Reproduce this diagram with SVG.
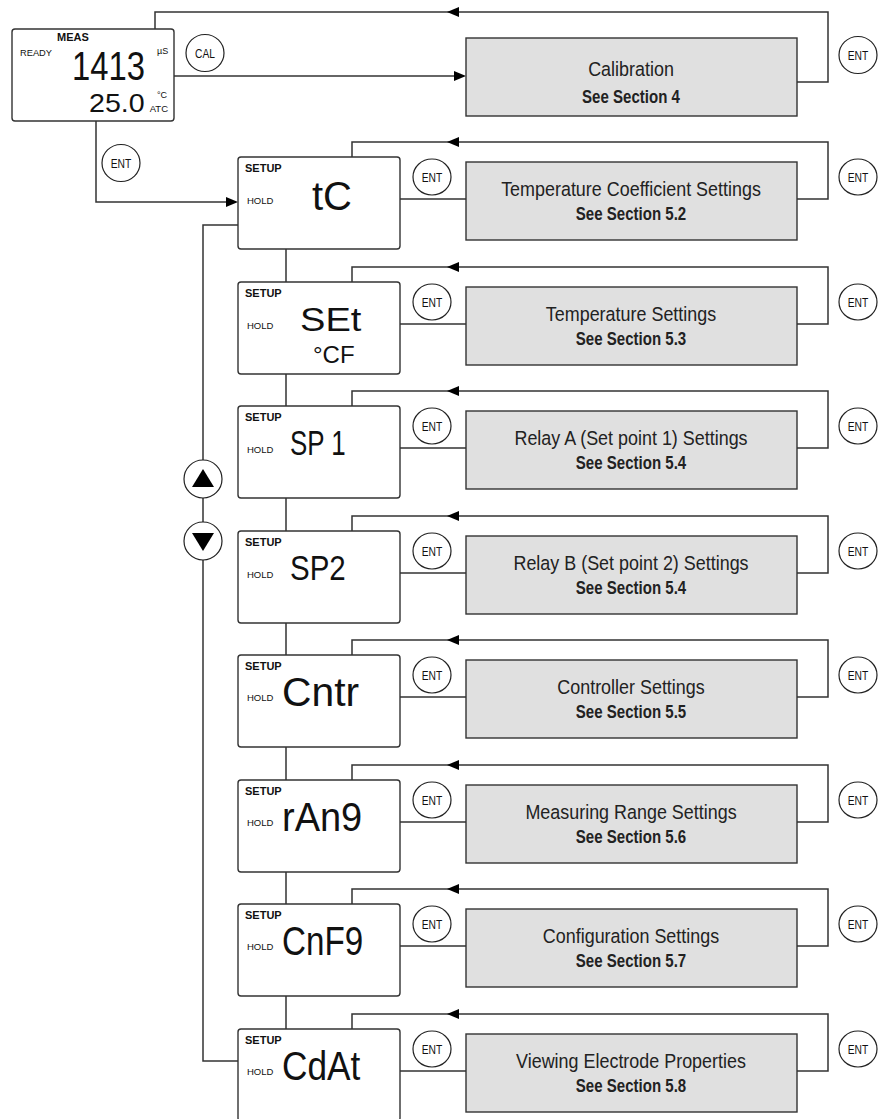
<svg xmlns="http://www.w3.org/2000/svg" width="878" height="1119" viewBox="0 0 878 1119">
<defs>
<style>
.disp{fill:#fff;stroke:#333;stroke-width:1.4}
.gbox{fill:#e0e0e0;stroke:#333;stroke-width:1.4}
.ln{fill:none;stroke:#333;stroke-width:1.5}
.btn{fill:#fff;stroke:#222;stroke-width:1.2}
.bt{font-family:"Liberation Sans",Arial,sans-serif;font-size:12.5px;fill:#111;text-anchor:middle}
.setup{font-family:"Liberation Sans",Arial,sans-serif;font-size:11px;font-weight:bold;fill:#111}
.hold{font-family:"Liberation Sans",Arial,sans-serif;font-size:9.5px;fill:#111}
.seg{font-family:"Liberation Sans",Arial,sans-serif;fill:#111}
.t1{font-family:"Liberation Sans",Arial,sans-serif;font-size:19.5px;fill:#222;text-anchor:middle}
.t2{font-family:"Liberation Sans",Arial,sans-serif;font-size:17.5px;font-weight:bold;fill:#222;text-anchor:middle}
.sm{font-family:"Liberation Sans",Arial,sans-serif;fill:#111}
</style>
</defs>

<g id="connectors">
<path class="ln" d="M155,29 V12 H828 V82 H797"/>
<path d="M459,7 L447,12 L459,17 z" fill="#000"/>
<path class="ln" d="M174,76 H454"/>
<path d="M454,71 L466,76 L454,81 z" fill="#000"/>
<path class="ln" d="M96,121 V202 H226"/>
<path d="M226,197 L238,202 L226,207 z" fill="#000"/>
<path class="ln" d="M238,225 H203 V1061 H238"/>
<path class="ln" d="M286,249 V282 M286,374 V406 M286,498 V531 M286,623 V655 M286,747 V780 M286,872 V904 M286,996 V1029"/>
<path class="ln" d="M400,199 H466 M797,199 H828 V142 H352 V157"/>
<path d="M459,137 L447,142 L459,147 z" fill="#000"/>
<path class="ln" d="M400,324 H466 M797,324 H828 V267 H352 V282"/>
<path d="M459,262 L447,267 L459,272 z" fill="#000"/>
<path class="ln" d="M400,448 H466 M797,448 H828 V391 H352 V406"/>
<path d="M459,386 L447,391 L459,396 z" fill="#000"/>
<path class="ln" d="M400,573 H466 M797,573 H828 V516 H352 V531"/>
<path d="M459,511 L447,516 L459,521 z" fill="#000"/>
<path class="ln" d="M400,697 H466 M797,697 H828 V640 H352 V655"/>
<path d="M459,635 L447,640 L459,645 z" fill="#000"/>
<path class="ln" d="M400,822 H466 M797,822 H828 V765 H352 V780"/>
<path d="M459,760 L447,765 L459,770 z" fill="#000"/>
<path class="ln" d="M400,946 H466 M797,946 H828 V889 H352 V904"/>
<path d="M459,884 L447,889 L459,894 z" fill="#000"/>
<path class="ln" d="M400,1071 H466 M797,1071 H828 V1014 H352 V1029"/>
<path d="M459,1009 L447,1014 L459,1019 z" fill="#000"/>
</g>

<g id="buttons">
<ellipse class="btn" cx="205" cy="53" rx="19" ry="18.5"/><text class="bt" transform="translate(205,57.5) scale(0.82,1)">CAL</text>
<ellipse class="btn" cx="858" cy="55" rx="19" ry="18.5"/><text class="bt" transform="translate(858,59.5) scale(0.82,1)">ENT</text>
<ellipse class="btn" cx="121" cy="163" rx="19" ry="18.5"/><text class="bt" transform="translate(121,167.5) scale(0.82,1)">ENT</text>
<circle class="btn" cx="203" cy="479" r="19"/><path d="M192,487 L203,469 L214,487 z" fill="#000"/>
<circle class="btn" cx="203" cy="541" r="19"/><path d="M192,533 L203,551 L214,533 z" fill="#000"/>
<ellipse class="btn" cx="432" cy="177" rx="19" ry="18"/><text class="bt" transform="translate(432,181.5) scale(0.82,1)">ENT</text>
<ellipse class="btn" cx="858" cy="177" rx="19" ry="18"/><text class="bt" transform="translate(858,181.5) scale(0.82,1)">ENT</text>
<ellipse class="btn" cx="432" cy="302" rx="19" ry="18"/><text class="bt" transform="translate(432,306.5) scale(0.82,1)">ENT</text>
<ellipse class="btn" cx="858" cy="302" rx="19" ry="18"/><text class="bt" transform="translate(858,306.5) scale(0.82,1)">ENT</text>
<ellipse class="btn" cx="432" cy="426" rx="19" ry="18"/><text class="bt" transform="translate(432,430.5) scale(0.82,1)">ENT</text>
<ellipse class="btn" cx="858" cy="426" rx="19" ry="18"/><text class="bt" transform="translate(858,430.5) scale(0.82,1)">ENT</text>
<ellipse class="btn" cx="432" cy="551" rx="19" ry="18"/><text class="bt" transform="translate(432,555.5) scale(0.82,1)">ENT</text>
<ellipse class="btn" cx="858" cy="551" rx="19" ry="18"/><text class="bt" transform="translate(858,555.5) scale(0.82,1)">ENT</text>
<ellipse class="btn" cx="432" cy="675" rx="19" ry="18"/><text class="bt" transform="translate(432,679.5) scale(0.82,1)">ENT</text>
<ellipse class="btn" cx="858" cy="675" rx="19" ry="18"/><text class="bt" transform="translate(858,679.5) scale(0.82,1)">ENT</text>
<ellipse class="btn" cx="432" cy="800" rx="19" ry="18"/><text class="bt" transform="translate(432,804.5) scale(0.82,1)">ENT</text>
<ellipse class="btn" cx="858" cy="800" rx="19" ry="18"/><text class="bt" transform="translate(858,804.5) scale(0.82,1)">ENT</text>
<ellipse class="btn" cx="432" cy="924" rx="19" ry="18"/><text class="bt" transform="translate(432,928.5) scale(0.82,1)">ENT</text>
<ellipse class="btn" cx="858" cy="924" rx="19" ry="18"/><text class="bt" transform="translate(858,928.5) scale(0.82,1)">ENT</text>
<ellipse class="btn" cx="432" cy="1049" rx="19" ry="18"/><text class="bt" transform="translate(432,1053.5) scale(0.82,1)">ENT</text>
<ellipse class="btn" cx="858" cy="1049" rx="19" ry="18"/><text class="bt" transform="translate(858,1053.5) scale(0.82,1)">ENT</text>
</g>

<g id="meas">
<rect class="disp" x="12" y="29" width="162" height="92" rx="3"/>
<text class="setup" x="57" y="41">MEAS</text>
<text class="sm" x="20" y="56" font-size="9.3">READY</text>
<text class="seg" font-size="40" transform="translate(72,80) scale(0.82,1)">1413</text>
<text class="sm" x="157" y="54" font-size="9">µS</text>
<text class="seg" font-size="26" transform="translate(89,112) scale(1.1,1)">25.0</text>
<text class="sm" x="157" y="98" font-size="9">°C</text>
<text class="sm" x="168" y="112" font-size="9.5" text-anchor="end">ATC</text>
</g>

<g id="calibration">
<rect class="gbox" x="466" y="38" width="331" height="78"/>
<text class="t1" transform="translate(631,76) scale(0.92,1)">Calibration</text>
<text class="t2" transform="translate(631,103) scale(0.86,1)">See Section 4</text>
</g>

<g id="setup-tc">
<rect class="disp" x="238" y="157" width="162" height="92" rx="3"/>
<text class="setup" x="245" y="172">SETUP</text>
<text class="hold" x="247" y="204">HOLD</text>
<text class="seg" font-size="40" transform="translate(312,210)">tC</text>
</g>
<g id="gbox-tc">
<rect class="gbox" x="466" y="162" width="331" height="78"/>
<text class="t1" transform="translate(631,196) scale(0.92,1)">Temperature Coefficient Settings</text>
<text class="t2" transform="translate(631,220) scale(0.86,1)">See Section 5.2</text>
</g>

<g id="setup-set">
<rect class="disp" x="238" y="282" width="162" height="92" rx="3"/>
<text class="setup" x="245" y="297">SETUP</text>
<text class="hold" x="247" y="329">HOLD</text>
<text class="seg" font-size="34" transform="translate(300,331) scale(1.12,1)">SEt</text>
<text class="seg" font-size="24" transform="translate(313,363)">°CF</text>
</g>
<g id="gbox-set">
<rect class="gbox" x="466" y="287" width="331" height="78"/>
<text class="t1" transform="translate(631,321) scale(0.92,1)">Temperature Settings</text>
<text class="t2" transform="translate(631,345) scale(0.86,1)">See Section 5.3</text>
</g>

<g id="setup-sp1">
<rect class="disp" x="238" y="406" width="162" height="92" rx="3"/>
<text class="setup" x="245" y="421">SETUP</text>
<text class="hold" x="247" y="453">HOLD</text>
<text class="seg" font-size="36" transform="translate(290,455) scale(0.72,1)">SP 1</text>
</g>
<g id="gbox-sp1">
<rect class="gbox" x="466" y="411" width="331" height="78"/>
<text class="t1" transform="translate(631,445) scale(0.92,1)">Relay A (Set point 1) Settings</text>
<text class="t2" transform="translate(631,469) scale(0.86,1)">See Section 5.4</text>
</g>

<g id="setup-sp2">
<rect class="disp" x="238" y="531" width="162" height="92" rx="3"/>
<text class="setup" x="245" y="546">SETUP</text>
<text class="hold" x="247" y="578">HOLD</text>
<text class="seg" font-size="36" transform="translate(290,580) scale(0.82,1)">SP2</text>
</g>
<g id="gbox-sp2">
<rect class="gbox" x="466" y="536" width="331" height="78"/>
<text class="t1" transform="translate(631,570) scale(0.92,1)">Relay B (Set point 2) Settings</text>
<text class="t2" transform="translate(631,594) scale(0.86,1)">See Section 5.4</text>
</g>

<g id="setup-cntr">
<rect class="disp" x="238" y="655" width="162" height="92" rx="3"/>
<text class="setup" x="245" y="670">SETUP</text>
<text class="hold" x="247" y="701">HOLD</text>
<text class="seg" font-size="40" transform="translate(282,706) scale(1.02,1)">Cntr</text>
</g>
<g id="gbox-cntr">
<rect class="gbox" x="466" y="660" width="331" height="78"/>
<text class="t1" transform="translate(631,694) scale(0.92,1)">Controller Settings</text>
<text class="t2" transform="translate(631,718) scale(0.86,1)">See Section 5.5</text>
</g>

<g id="setup-rang">
<rect class="disp" x="238" y="780" width="162" height="92" rx="3"/>
<text class="setup" x="245" y="795">SETUP</text>
<text class="hold" x="247" y="826">HOLD</text>
<text class="seg" font-size="40" transform="translate(282,831) scale(0.95,1)">rAn9</text>
</g>
<g id="gbox-rang">
<rect class="gbox" x="466" y="785" width="331" height="78"/>
<text class="t1" transform="translate(631,819) scale(0.92,1)">Measuring Range Settings</text>
<text class="t2" transform="translate(631,843) scale(0.86,1)">See Section 5.6</text>
</g>

<g id="setup-cnfg">
<rect class="disp" x="238" y="904" width="162" height="92" rx="3"/>
<text class="setup" x="245" y="919">SETUP</text>
<text class="hold" x="247" y="950">HOLD</text>
<text class="seg" font-size="40" transform="translate(282,955) scale(0.83,1)">CnF9</text>
</g>
<g id="gbox-cnfg">
<rect class="gbox" x="466" y="909" width="331" height="78"/>
<text class="t1" transform="translate(631,943) scale(0.92,1)">Configuration Settings</text>
<text class="t2" transform="translate(631,967) scale(0.86,1)">See Section 5.7</text>
</g>

<g id="setup-cdat">
<rect class="disp" x="238" y="1029" width="162" height="92" rx="3"/>
<text class="setup" x="245" y="1044">SETUP</text>
<text class="hold" x="247" y="1075">HOLD</text>
<text class="seg" font-size="40" transform="translate(282,1080) scale(0.88,1)">CdAt</text>
</g>
<g id="gbox-cdat">
<rect class="gbox" x="466" y="1034" width="331" height="78"/>
<text class="t1" transform="translate(631,1068) scale(0.92,1)">Viewing Electrode Properties</text>
<text class="t2" transform="translate(631,1092) scale(0.86,1)">See Section 5.8</text>
</g>
</svg>
